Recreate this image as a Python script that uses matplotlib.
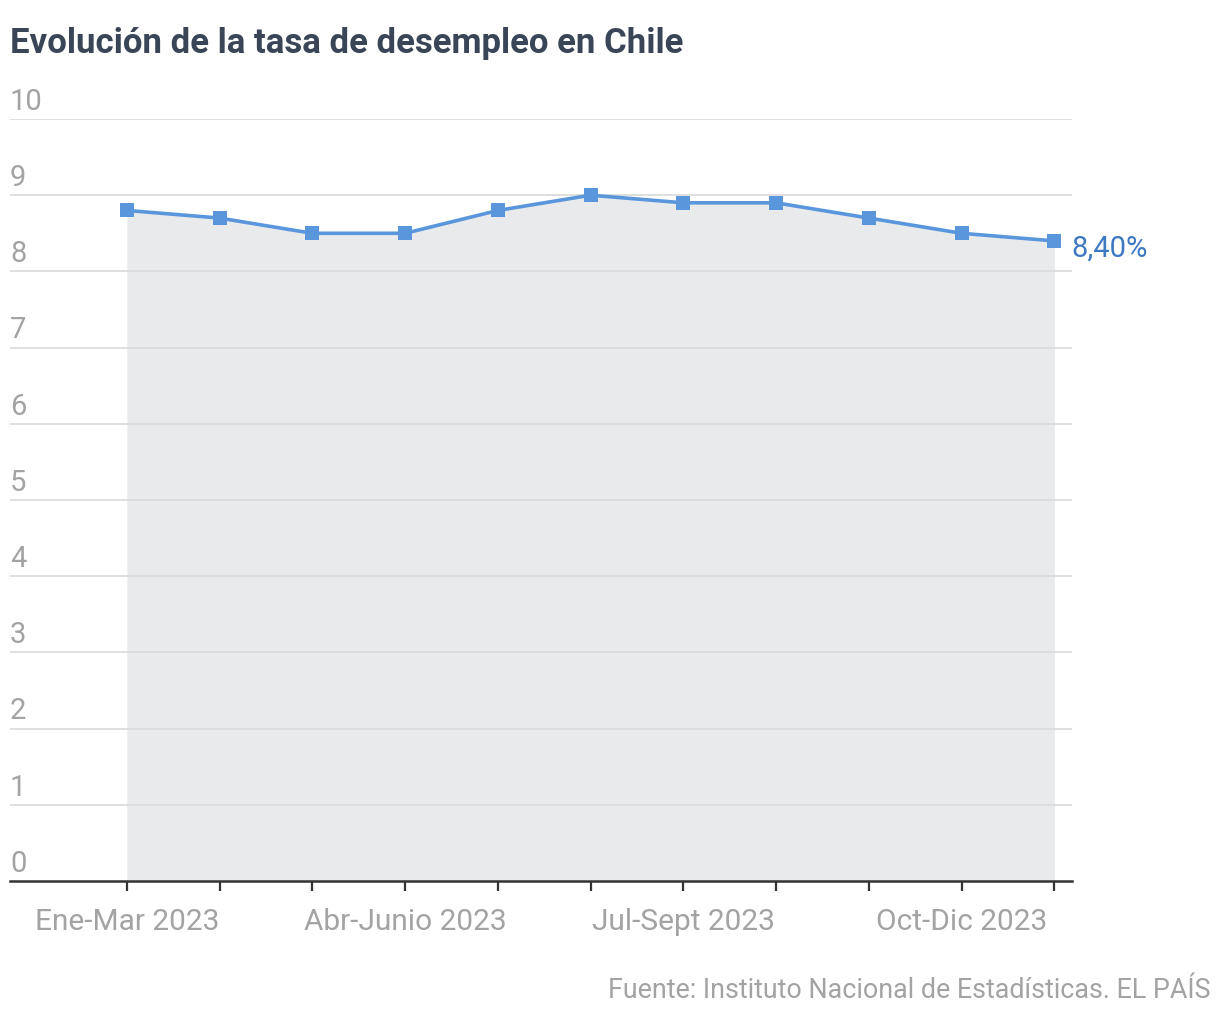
import matplotlib
matplotlib.use("Agg")
import matplotlib.pyplot as plt
import matplotlib.transforms as mtransforms

# datos: tasa de desempleo (trimestres moviles)
periodos = ["Ene-Mar 2023", "Feb-Abr 2023", "Mar-May 2023", "Abr-Junio 2023",
            "May-Jul 2023", "Jun-Ago 2023", "Jul-Sept 2023", "Ago-Oct 2023",
            "Sept-Nov 2023", "Oct-Dic 2023", "Nov-Ene 2024"]
tasa = [8.8, 8.7, 8.5, 8.5, 8.8, 9.0, 8.9, 8.9, 8.7, 8.5, 8.4]
etiquetas_x = ["Ene-Mar 2023", "Abr-Junio 2023", "Jul-Sept 2023", "Oct-Dic 2023"]
ticks_y = [0, 1, 2, 3, 4, 5, 6, 7, 8, 9, 10]

FUENTE = ["Roboto", "DejaVu Sans"]
GRIS = "#a3a3a3"
AZUL = "#5a96dc"

fig = plt.figure(figsize=(12.2, 10.2), dpi=100)
ax = fig.add_axes([10 / 1220, 1 - 882 / 1020, 1062 / 1220, 762 / 1020])

x = list(range(len(tasa)))
ax.fill_between(x, 0, tasa, color="#e9eaec", linewidth=0, zorder=1)
ax.plot(x, tasa, color=AZUL, linewidth=2.6, marker="s", markersize=10,
        markeredgewidth=0, zorder=3)

ax.set_xlim(-1.26, 10.19)
ax.set_ylim(0, 10)

# lineas de grilla
for v in ticks_y[1:]:
    ax.axhline(v, color="#dcdcdc", linewidth=1.3, zorder=2)

# etiquetas del eje y sobre la grilla
off = mtransforms.ScaledTranslation(0, 3 / 72, fig.dpi_scale_trans)
for v in ticks_y:
    ax.text(0, v, str(v), transform=ax.get_yaxis_transform() + off,
            ha="left", va="bottom", fontsize=21, color=GRIS, family=FUENTE)

ax.set_yticks([])
ax.set_xticks(x)
ax.set_xticklabels([p if p in etiquetas_x else "" for p in periodos],
                   fontsize=21.5, color=GRIS, family=FUENTE)
ax.tick_params(axis="x", length=7.5, width=1.6, color="#333333", pad=11)

for s in ["top", "right", "left"]:
    ax.spines[s].set_visible(False)
ax.spines["bottom"].set_color("#333333")
ax.spines["bottom"].set_linewidth(1.8)
ax.spines["bottom"].set_zorder(4)

# valor final
ax.annotate("8,40%", (x[-1], tasa[-1]), xytext=(12, -5), textcoords="offset points",
            ha="left", va="center", fontsize=21, color="#3d78c2", family=FUENTE,
            annotation_clip=False)

fig.text(10 / 1220, 1 - 43 / 1020, "Evolución de la tasa de desempleo en Chile",
         ha="left", va="center", fontsize=25, fontweight="bold", color="#3a4558",
         family=FUENTE)
fig.text(1210 / 1220, 1 - 991 / 1020, "Fuente: Instituto Nacional de Estadísticas. EL PAÍS",
         ha="right", va="center", fontsize=19.4, color=GRIS, family=FUENTE)

fig.savefig("out.png", dpi=100, facecolor="white")
